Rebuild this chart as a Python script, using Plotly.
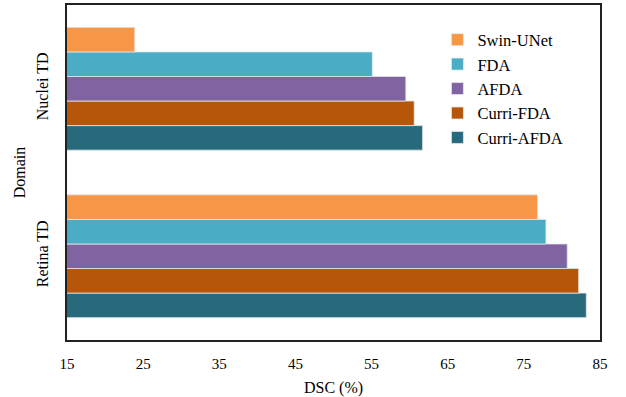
import plotly.graph_objects as go

# Domains on the categorical axis (bottom to top)
domains = ["Retina TD", "Nuclei TD"]

# DSC (%) per method, ordered as in `domains`
methods = ["Curri-AFDA", "Curri-FDA", "AFDA", "FDA", "Swin-UNet"]
dsc = {
    "Swin-UNet": [76.8, 23.9],
    "FDA": [77.9, 55.1],
    "AFDA": [80.7, 59.5],
    "Curri-FDA": [82.2, 60.6],
    "Curri-AFDA": [83.2, 61.7],
}
colors = {
    "Swin-UNet": "#F79646",
    "FDA": "#4BACC6",
    "AFDA": "#8064A2",
    "Curri-FDA": "#B5560A",
    "Curri-AFDA": "#276A7B",
}

x_ticks = [15, 25, 35, 45, 55, 65, 75, 85]

fig = go.Figure()
for m in methods:
    fig.add_trace(go.Bar(
        y=domains,
        x=dsc[m],
        orientation="h",
        name=m,
        marker=dict(color=colors[m], line=dict(color="#E6E6E6", width=0.8)),
    ))

font_family = "Liberation Serif"

fig.update_layout(
    width=626,
    height=397,
    margin=dict(l=67, r=26, t=3, b=55),
    paper_bgcolor="white",
    plot_bgcolor="white",
    barmode="group",
    bargap=0.267,
    bargroupgap=0,
    font=dict(family=font_family, size=15, color="#000"),
    showlegend=True,
    legend=dict(
        traceorder="reversed",
        x=0.695, y=0.948, xanchor="left", yanchor="top",
        font=dict(family=font_family, size=16.5, color="#000"),
        bgcolor="rgba(0,0,0,0)",
        itemwidth=30,
        tracegroupgap=0,
    ),
    xaxis=dict(
        range=[15, 85],
        tickvals=x_ticks,
        ticktext=[str(v) for v in x_ticks],
        showgrid=False,
        zeroline=False,
        showline=True,
        linecolor="#222",
        linewidth=2,
        mirror=True,
        ticks="",
        ticklabelstandoff=9,
        title=dict(text="DSC (%)", standoff=11,
                   font=dict(family=font_family, size=16)),
    ),
    yaxis=dict(
        type="category",
        categoryorder="array",
        categoryarray=domains,
        showgrid=False,
        showline=True,
        linecolor="#222",
        linewidth=2,
        mirror=True,
        ticks="",
        tickangle=-90,
        ticklabelstandoff=11,
        tickfont=dict(family=font_family, size=16),
        title=dict(text="Domain", standoff=4,
                   font=dict(family=font_family, size=16)),
    ),
)

fig.write_html("out.html")
